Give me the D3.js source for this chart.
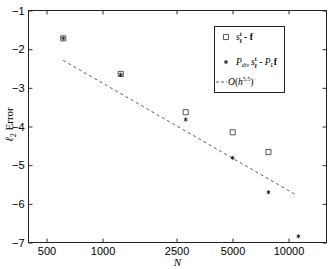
<!DOCTYPE html>
<html>
<head>
<meta charset="utf-8">
<script src="https://cdn.jsdelivr.net/npm/d3@7"></script>
<style>
  body { margin: 0; background: #fff; }
  svg { display: block; }
  .tick text { font-family: "Liberation Sans", Arial, sans-serif; font-size: 11px; fill: #000; }
  .lbl { font-family: "Liberation Serif", "DejaVu Serif", serif; fill: #000; }
</style>
</head>
<body>
<svg width="332" height="269"></svg>
<script>
// s_f^t - f  (squares)
const sqN   = [615, 1253, 2800, 5010, 7800];
const sqErr = [-1.72, -2.64, -3.63, -4.15, -4.66];

// P_div s_f^t - P_L f  (asterisks)
const stN   = [615, 1253, 2800, 5010, 7800, 11300];
const stErr = [-1.72, -2.66, -3.82, -4.81, -5.70, -6.84];

// O(h^5.5) reference line
const refN   = [615, 10900];
const refErr = [-2.29, -5.76];

const xTicks = [500, 1000, 2500, 5000, 10000];
const yTicks = [-1, -2, -3, -4, -5, -6, -7];

const svg = d3.select("svg");
const margin = {left: 28.5, right: 5.5, top: 10.5, bottom: 26.5};
const width  = +svg.attr("width");
const height = +svg.attr("height");

const x = d3.scaleLog().domain([400, 16000]).range([margin.left, width - margin.right]);
const y = d3.scaleLinear().domain([-7, -1]).range([height - margin.bottom, margin.top]);

const fmtY = d => d3.format("d")(d).replace("-", "\u2212");

// axes, ticks pointing inward like matlab
svg.append("g")
  .attr("transform", `translate(0,${y(-7)})`)
  .call(d3.axisBottom(x).tickValues(xTicks).tickFormat(d3.format("d")).tickSizeInner(-4).tickSizeOuter(0).tickPadding(5));
svg.append("g")
  .attr("transform", `translate(0,${y(-1)})`)
  .call(d3.axisTop(x).tickValues(xTicks).tickFormat("").tickSizeInner(-4).tickSizeOuter(0));
svg.append("g")
  .attr("transform", `translate(${x(400)},0)`)
  .call(d3.axisLeft(y).tickValues(yTicks).tickFormat(fmtY).tickSizeInner(-4).tickSizeOuter(0).tickPadding(4));
svg.append("g")
  .attr("transform", `translate(${x(16000)},0)`)
  .call(d3.axisRight(y).tickValues(yTicks).tickFormat("").tickSizeInner(-4).tickSizeOuter(0));

svg.selectAll(".domain").remove();
svg.selectAll(".tick line").attr("stroke", "#333");

// box
svg.append("rect")
  .attr("x", x(400)).attr("y", y(-1))
  .attr("width", x(16000) - x(400)).attr("height", y(-7) - y(-1))
  .attr("fill", "none").attr("stroke", "#222").attr("stroke-width", 1);

// reference line
const line = d3.line().x(d => x(d[0])).y(d => y(d[1]));
svg.append("path")
  .datum(refN.map((n, i) => [n, refErr[i]]))
  .attr("d", line)
  .attr("fill", "none").attr("stroke", "#333").attr("stroke-width", 0.8)
  .attr("stroke-dasharray", "3,3");

// squares
const sq = d3.symbol().type(d3.symbolSquare).size(26);
svg.append("g").selectAll("path")
  .data(sqN.map((n, i) => [n, sqErr[i]]))
  .join("path")
  .attr("d", sq)
  .attr("transform", d => `translate(${x(d[0])},${y(d[1])})`)
  .attr("fill", "none").attr("stroke", "#444").attr("stroke-width", 0.9);

// asterisks
const st = d3.symbol().type(d3.symbolAsterisk).size(12);
svg.append("g").selectAll("path")
  .data(stN.map((n, i) => [n, stErr[i]]))
  .join("path")
  .attr("d", st)
  .attr("transform", d => `translate(${x(d[0])},${y(d[1])})`)
  .attr("fill", "none").attr("stroke", "#111").attr("stroke-width", 0.9);

// axis labels
svg.append("text").attr("class", "lbl")
  .attr("x", (x(400) + x(16000)) / 2).attr("y", 266)
  .attr("text-anchor", "middle").attr("font-size", 11).attr("font-style", "italic")
  .text("N");

const yl = svg.append("text").attr("class", "lbl")
  .attr("transform", `translate(13,${(y(-1) + y(-7)) / 2 - 2}) rotate(-90)`)
  .attr("text-anchor", "middle").attr("font-size", 11);
yl.append("tspan").attr("font-style", "italic").text("\u2113");
yl.append("tspan").attr("font-size", 8).attr("dy", 3).text("2");
yl.append("tspan").attr("dy", -3).text(" Error");

// legend
const lg = svg.append("g");
lg.append("rect")
  .attr("x", 214.5).attr("y", 26.5).attr("width", 70).attr("height", 66)
  .attr("fill", "#fff").attr("stroke", "#222").attr("stroke-width", 1);

lg.append("path").attr("d", sq).attr("transform", "translate(226,37)")
  .attr("fill", "none").attr("stroke", "#444").attr("stroke-width", 0.9);
lg.append("path").attr("d", st).attr("transform", "translate(226,62)")
  .attr("fill", "none").attr("stroke", "#111").attr("stroke-width", 0.9);
lg.append("line").attr("x1", 216).attr("x2", 227).attr("y1", 82).attr("y2", 82)
  .attr("stroke", "#333").attr("stroke-width", 0.8).attr("stroke-dasharray", "3,2");

function addSF(t) {
  t.append("tspan").attr("font-style", "italic").text("s");
  t.append("tspan").attr("font-size", 6).attr("font-weight", "bold").attr("dy", -4).text("t");
  t.append("tspan").attr("font-size", 6).attr("font-weight", "bold").attr("dx", -2).attr("dy", 6.5).text("f");
  t.append("tspan").attr("dy", -2.5).text(" - ");
}

const t1 = lg.append("text").attr("class", "lbl").attr("x", 236).attr("y", 40).attr("font-size", 9.5);
addSF(t1);
t1.append("tspan").attr("font-weight", "bold").text("f");

const t2 = lg.append("text").attr("class", "lbl").attr("x", 236).attr("y", 65).attr("font-size", 9.5);
t2.append("tspan").attr("font-style", "italic").text("P");
t2.append("tspan").attr("font-size", 6).attr("font-style", "italic").attr("dy", 2).text("div");
t2.append("tspan").attr("dy", -2).text("\u2009");
addSF(t2);
t2.append("tspan").attr("font-style", "italic").text("P");
t2.append("tspan").attr("font-size", 6).attr("font-style", "italic").attr("dy", 2).text("L");
t2.append("tspan").attr("font-weight", "bold").attr("dy", -2).text("f");

const t3 = lg.append("text").attr("class", "lbl").attr("x", 228).attr("y", 85).attr("font-size", 9.5);
t3.append("tspan").attr("font-style", "italic").text("O");
t3.append("tspan").text("(");
t3.append("tspan").attr("font-style", "italic").text("h");
t3.append("tspan").attr("font-size", 6).attr("dy", -4).text("5.5");
t3.append("tspan").attr("dy", 4).text(")");
</script>
</body>
</html>
